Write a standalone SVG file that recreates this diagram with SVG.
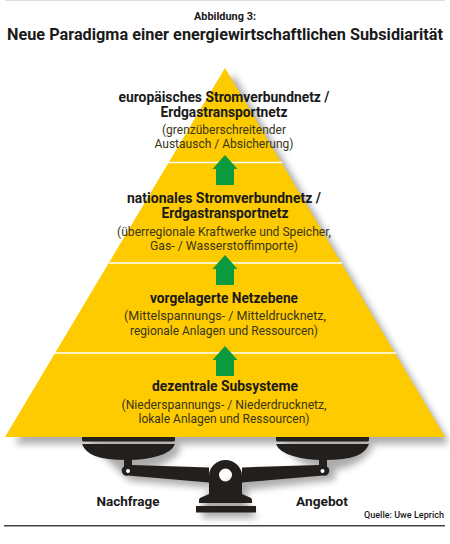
<svg xmlns="http://www.w3.org/2000/svg" width="450" height="544" viewBox="0 0 450 544">
<style>
text{font-family:"Roboto","Liberation Sans",sans-serif;text-anchor:middle;fill:#1a1a1a}
.b{font-weight:700;font-size:14px}
.r{font-weight:400;font-size:13px;fill:#3a3518}
.arrow{fill:#0b9a3e}
.sep{stroke:#fff;stroke-width:1.6;fill:none}
.scale{fill:#231f1c}
</style>
<defs>
<filter id="blur" x="-20%" y="-20%" width="140%" height="140%"><feGaussianBlur stdDeviation="3.500"/></filter>
<polygon id="aw" points="0,0 12.500,14 9,14 9,30 -9,30 -9,14 -12.500,14"/>
</defs>
<rect width="450" height="544" fill="#fff"/>
<rect x="5" y="0" width="440" height="1" fill="#ddd"/>
<g id="title">
<text x="225" y="20" style="font-size:10.500px;font-weight:700" textLength="62" lengthAdjust="spacingAndGlyphs">Abbildung 3:</text>
<text x="225" y="40" style="font-size:16.500px;font-weight:700" textLength="436" lengthAdjust="spacingAndGlyphs">Neue Paradigma einer energiewirtschaftlichen Subsidiarität</text>
</g>
<g id="shadows" filter="url(#blur)" fill="#000" opacity="0.32">
<polygon points="233,74 447,438 447,444 15,444"/>
<path d="M90,445H180V452Q165,468 137,470L213,472V490L250,472L325,470Q295,465 284,445H374Q365,465 335,470L335,480L247,490V504L258,518H202L203,500L213,488L130,481Z"/>
</g>
<g id="pyramid">
<polygon points="225,68 445,437 5,437" fill="#fecb00"/>
<path class="sep" d="M168,162.500H282"/>
<path class="sep" d="M109,263H342"/>
<path class="sep" d="M55,353H396"/>
</g>
<g id="connectors">
<use href="#aw" class="arrow" x="225" y="155"/>
<use href="#aw" class="arrow" x="225" y="255"/>
<use href="#aw" class="arrow" x="225" y="346"/>
</g>
<g id="node-europa">
<text class="b" x="224" y="102" textLength="211" lengthAdjust="spacingAndGlyphs">europäisches Stromverbundnetz /</text>
<text class="b" x="224" y="117" textLength="127" lengthAdjust="spacingAndGlyphs">Erdgastransportnetz</text>
<text class="r" x="224" y="134" textLength="124" lengthAdjust="spacingAndGlyphs">(grenzüberschreitender</text>
<text class="r" x="224" y="148" textLength="139" lengthAdjust="spacingAndGlyphs">Austausch / Absicherung)</text>
</g>
<g id="node-national">
<text class="b" x="224" y="203" textLength="194" lengthAdjust="spacingAndGlyphs">nationales Stromverbundnetz /</text>
<text class="b" x="225" y="218" textLength="127" lengthAdjust="spacingAndGlyphs">Erdgastransportnetz</text>
<text class="r" x="224" y="236" textLength="214" lengthAdjust="spacingAndGlyphs">(überregionale Kraftwerke und Speicher,</text>
<text class="r" x="224" y="250" textLength="148" lengthAdjust="spacingAndGlyphs">Gas-  / Wasserstoffimporte)</text>
</g>
<g id="node-netzebene">
<text class="b" x="224" y="303" textLength="148" lengthAdjust="spacingAndGlyphs">vorgelagerte Netzebene</text>
<text class="r" x="225" y="320" textLength="202" lengthAdjust="spacingAndGlyphs">(Mittelspannungs- / Mitteldrucknetz,</text>
<text class="r" x="224" y="335" textLength="188" lengthAdjust="spacingAndGlyphs">regionale Anlagen und Ressourcen)</text>
</g>
<g id="node-subsysteme">
<text class="b" x="225" y="391" textLength="146" lengthAdjust="spacingAndGlyphs">dezentrale Subsysteme</text>
<text class="r" x="224" y="409" textLength="205" lengthAdjust="spacingAndGlyphs">(Niederspannungs- / Niederdrucknetz,</text>
<text class="r" x="224" y="423" textLength="171" lengthAdjust="spacingAndGlyphs">lokale Anlagen und Ressourcen)</text>
</g>
<g id="scale" class="scale">
<path d="M82,437H175V440Q175,441.500 173,441.500H84Q82,441.500 82,440Z"/>
<path d="M82,444H175Q172,452 158,456Q145,460 128,460Q105,460 95,456Q85,452 82,444Z"/>
<path d="M124,459H132V465L209,467.500V482.500L128,475.500A5,5 0 0 1 124,466.500Z"/>
<path d="M369,444H276Q279,452 293,456Q306,460 323,460Q346,460 356,456Q366,452 369,444Z"/>
<path d="M276,437H369V440Q369,441.500 367,441.500H278Q276,441.500 276,440Z"/>
<path d="M319,459H327V466.500A5,5 0 0 1 323,475.500L242,482.500V467.500L319,465Z"/>
<path fill-rule="evenodd" d="M209,476A16.500,16 0 0 1 242,476V494L251,498Q252,499 252,500V503H199V500Q199,499 200,498L209,494ZM232,475A6.500,6.500 0 1 0 219,475A6.500,6.500 0 1 0 232,475Z"/>
<rect x="196" y="506" width="60" height="6.500"/>
<circle cx="128" cy="471" r="2" fill="#fff"/>
<circle cx="322.500" cy="471" r="2" fill="#fff"/>
</g>
<g id="labels">
<text x="128" y="506" style="font-size:13.500px;font-weight:700" textLength="63" lengthAdjust="spacingAndGlyphs">Nachfrage</text>
<text x="322" y="506" style="font-size:13.500px;font-weight:700" textLength="52" lengthAdjust="spacingAndGlyphs">Angebot</text>
<text x="404" y="518" style="font-size:9.500px;font-weight:500" textLength="80" lengthAdjust="spacingAndGlyphs">Quelle: Uwe Leprich</text>
</g>
<rect x="4" y="525" width="441" height="1.500" fill="#444"/>
</svg>
